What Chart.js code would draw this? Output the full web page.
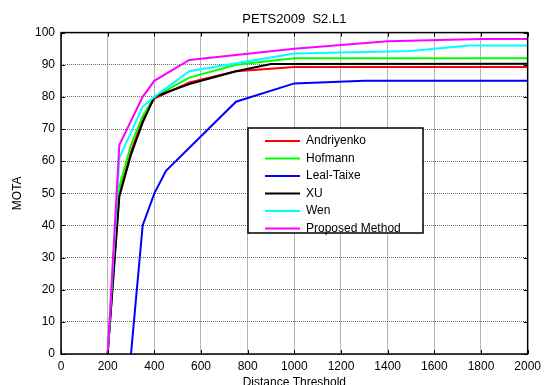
<!DOCTYPE html>
<html>
<head>
<meta charset="utf-8">
<script src="https://cdn.jsdelivr.net/npm/chart.js@4.4.0/dist/chart.umd.min.js"></script>
<style>
  html, body { margin: 0; padding: 0; background: #fff; }
  #wrap { width: 546px; height: 385px; }
</style>
</head>
<body>
<div id="wrap"><canvas id="chart" width="546" height="385"></canvas></div>
<script>
// ===== data =====
const seriesNames = ['Andriyenko', 'Hofmann', 'Leal-Taixe', 'XU', 'Wen', 'Proposed Method'];

const andriyenkoX = [200, 250, 300, 350, 400, 550, 750, 1000, 2000];
const andriyenkoY = [0, 50, 63, 73, 79.5, 84.5, 88, 89.3, 89.3];

const hofmannX = [200, 250, 300, 350, 400, 550, 750, 1000, 2000];
const hofmannY = [0, 52, 65, 74, 80, 86, 90, 92, 92];

const lealX = [300, 350, 400, 450, 750, 1000, 1300, 2000];
const lealY = [0, 40, 50, 57, 78.5, 84.2, 85, 85];

const xuX = [200, 250, 300, 350, 400, 550, 750, 900, 2000];
const xuY = [0, 49, 62, 72, 80, 84, 88, 90.2, 90.3];

const wenX = [200, 250, 350, 400, 550, 1000, 1500, 1750, 2000];
const wenY = [0, 61, 77, 80, 88, 93.5, 94.3, 96, 96];

const proposedX = [200, 250, 350, 400, 550, 1000, 1400, 1800, 2000];
const proposedY = [0, 65, 80, 85, 91.5, 95, 97.3, 98, 98];

const xTicks = [0, 200, 400, 600, 800, 1000, 1200, 1400, 1600, 1800, 2000];
const yTicks = [0, 10, 20, 30, 40, 50, 60, 70, 80, 90, 100];

function pts(xs, ys) {
  return xs.map((x, i) => ({ x: x, y: ys[i] }));
}

const FONT = 'Liberation Sans, Arial, sans-serif';

// ===== matlab-ish frame, inward ticks and legend =====
const framePlugin = {
  id: 'frame',
  afterDraw(chart) {
    const ctx = chart.ctx;
    const a = chart.chartArea;
    const xs = chart.scales.x;
    const ys = chart.scales.y;
    ctx.save();
    ctx.strokeStyle = '#000';
    ctx.lineWidth = 1;
    ctx.beginPath();
    xTicks.forEach(v => {
      const px = Math.round(xs.getPixelForValue(v)) + 0.5;
      ctx.moveTo(px, a.bottom); ctx.lineTo(px, a.bottom - 4);
      ctx.moveTo(px, a.top); ctx.lineTo(px, a.top + 4);
    });
    yTicks.forEach(v => {
      const py = Math.round(ys.getPixelForValue(v)) + 0.5;
      ctx.moveTo(a.left, py); ctx.lineTo(a.left + 4, py);
      ctx.moveTo(a.right, py); ctx.lineTo(a.right - 4, py);
    });
    ctx.stroke();
    ctx.lineWidth = 1.5;
    ctx.strokeRect(a.left, a.top, a.right - a.left, a.bottom - a.top);

    // legend box
    const lx = 248, ly = 128, lw = 175, lh = 105;
    ctx.fillStyle = '#fff';
    ctx.fillRect(lx, ly, lw, lh);
    ctx.lineWidth = 1.5;
    ctx.strokeStyle = '#000';
    ctx.strokeRect(lx, ly, lw, lh);
    ctx.font = '12px ' + FONT;
    ctx.textBaseline = 'middle';
    ctx.textAlign = 'left';
    chart.data.datasets.forEach((ds, i) => {
      const y = ly + 13 + i * 17.5;
      ctx.strokeStyle = ds.borderColor;
      ctx.lineWidth = 2;
      ctx.beginPath();
      ctx.moveTo(lx + 17, y); ctx.lineTo(lx + 52, y);
      ctx.stroke();
      ctx.fillStyle = '#000';
      ctx.fillText(ds.label, lx + 58, y);
    });
    ctx.restore();
  }
};

const colors = ['#ff0000', '#00ff00', '#0000ff', '#000000', '#00ffff', '#ff00ff'];
const allData = [
  pts(andriyenkoX, andriyenkoY),
  pts(hofmannX, hofmannY),
  pts(lealX, lealY),
  pts(xuX, xuY),
  pts(wenX, wenY),
  pts(proposedX, proposedY)
];

const datasets = seriesNames.map((name, i) => ({
  label: name,
  data: allData[i],
  borderColor: colors[i],
  backgroundColor: colors[i],
  borderWidth: 2,
  pointRadius: 0,
  tension: 0,
  fill: false,
  order: seriesNames.length - i
}));

new Chart(document.getElementById('chart').getContext('2d'), {
  type: 'line',
  data: { datasets: datasets },
  plugins: [framePlugin],
  options: {
    responsive: false,
    animation: false,
    devicePixelRatio: 1,
    layout: { padding: { left: 0, right: 16, top: 0, bottom: 0 } },
    plugins: {
      legend: { display: false },
      tooltip: { enabled: false },
      title: {
        display: true,
        fullSize: false,
        text: 'PETS2009  S2.L1',
        color: '#000',
        font: { family: FONT, size: 13, weight: 'normal' },
        padding: { top: 12, bottom: 5 }
      }
    },
    scales: {
      x: {
        type: 'linear',
        min: 0,
        max: 2000,
        afterBuildTicks: s => { s.ticks = xTicks.map(v => ({ value: v })); },
        afterFit: s => { s.height = 31; },
        grid: { color: '#6a6a6a', tickLength: 0, drawTicks: false },
        border: { display: false, dash: [1, 1] },
        ticks: {
          color: '#000',
          font: { family: FONT, size: 12 },
          padding: 5,
          maxRotation: 0,
          callback: v => String(v)
        },
        title: {
          display: true,
          text: 'Distance Threshold',
          color: '#000',
          font: { family: FONT, size: 12 },
          padding: { top: -4.5, bottom: -4.5 }
        }
      },
      y: {
        type: 'linear',
        min: 0,
        max: 100,
        afterBuildTicks: s => { s.ticks = yTicks.map(v => ({ value: v })); },
        afterFit: s => { s.width = 61; },
        grid: { color: '#6a6a6a', tickLength: 0, drawTicks: false },
        border: { display: false, dash: [1, 1] },
        ticks: {
          color: '#000',
          font: { family: FONT, size: 12 },
          padding: 6,
          callback: v => String(v)
        },
        title: {
          display: true,
          text: 'MOTA',
          color: '#000',
          font: { family: FONT, size: 12 },
          padding: { top: 10, bottom: 10 }
        }
      }
    }
  }
});
</script>
</body>
</html>
